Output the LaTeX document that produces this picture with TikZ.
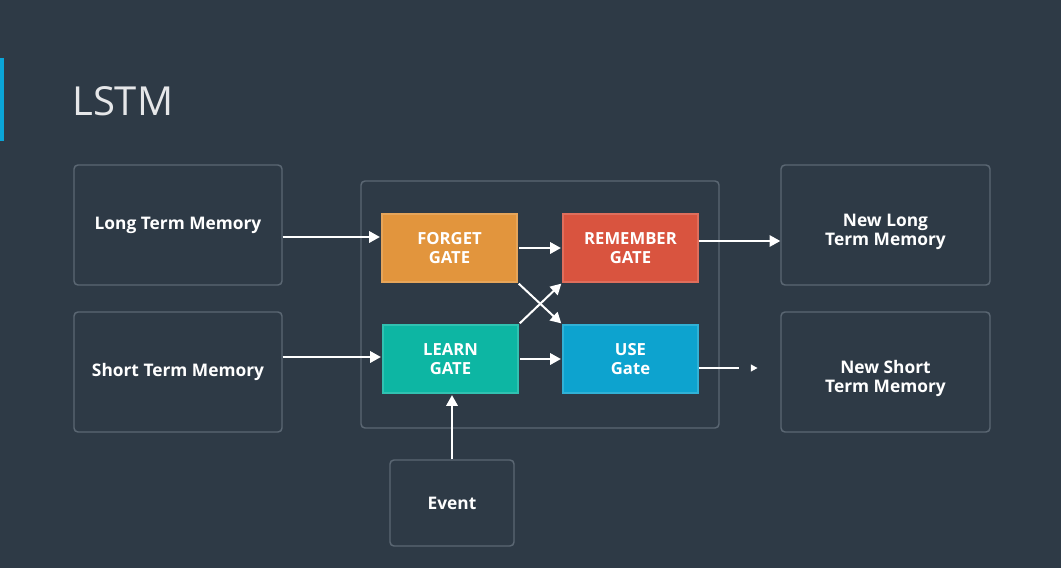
\documentclass[tikz,border=0pt]{standalone}
\usepackage{fontspec}
\setmainfont{Open Sans}
\usepackage{tikz}
\usetikzlibrary{arrows.meta}
\definecolor{bgcol}{HTML}{2E3A46}
\definecolor{edgecol}{HTML}{5B6773}
\definecolor{barcol}{HTML}{0AA5D8}
\definecolor{forgetcol}{HTML}{E2953D}
\definecolor{remembercol}{HTML}{D9543F}
\definecolor{learncol}{HTML}{0DB6A3}
\definecolor{usecol}{HTML}{0DA3CF}
\tikzset{
  memblk/.style = {draw=edgecol, line width=1.1pt, rounded corners=3pt,
                   minimum width=156pt, minimum height=90pt, align=center,
                   text=white, font=\fontsize{13}{14.5}\selectfont\bfseries},
  memtxt/.style = {align=center, text=white, font=\fontsize{13}{14.5}\selectfont\bfseries,
                   yshift=-5pt},
  gateblk/.style= {draw=#1!85!white, fill=#1, line width=0.8pt,
                   minimum width=101.25pt, minimum height=51pt, align=center,
                   text=white, font=\fontsize{12.5}{14.5}\selectfont\bfseries},
  ar/.style     = {-{Triangle[length=8pt, width=8.5pt]}, white, line width=1.5pt,
                   shorten <=1.2pt, shorten >=1.2pt},
}

\begin{document}
\begin{tikzpicture}[x=0.75pt, y=-0.75pt]
    \fill[bgcol] (0,0) rectangle (1061,568);
    \useasboundingbox (0,0) rectangle (1061,568);
    \fill[barcol] (0,58) rectangle (4,141);
    \node[anchor=base west, text=white!88!bgcol, inner sep=0pt,
          font=\fontsize{30}{34}\selectfont] (title) at (72,115) {LSTM};

    % memory boxes
    \node[memblk] (ltm)  at (178,225)   {Long Term Memory};
    \node[memblk] (stm)  at (178,372)   {Short Term Memory};
    \node[memblk, minimum width=156.75pt,
          label={[memtxt]center:New Long\\Term Memory}] (nltm) at (885.5,225) {};
    \node[memblk, minimum width=156.75pt,
          label={[memtxt]center:New Short\\Term Memory}] (nstm) at (885.5,372) {};
    \node[memblk, minimum width=93pt, minimum height=64.5pt] (event) at (452,503) {Event};

    % cell
    \node[draw=edgecol, line width=1.1pt, rounded corners=3pt,
          minimum width=268.5pt, minimum height=185.25pt] (cell) at (540,304.5) {};
    \node[gateblk=forgetcol]   (forget)   at (449.5,248) {FORGET\\GATE};
    \node[gateblk=remembercol] (remember) at (630.5,248) {REMEMBER\\GATE};
    \node[gateblk=learncol]    (learn)    at (450.5,359) {LEARN\\GATE};
    \node[gateblk=usecol]      (use)      at (630.5,359) {USE\\Gate};

    % connectors
    \draw[ar, shorten <=0pt] ([yshift=-9pt]ltm.east) -- ([yshift=8.25pt]forget.west);
    \draw[ar, shorten <=0pt] ([yshift=11.25pt]stm.east) -- ([yshift=1.5pt]learn.west);
    \draw[ar] (forget) -- (remember);
    \draw[ar] (learn) -- (use);
    \draw[ar] (forget.south east) -- (use.north west);
    \draw[ar] (learn.north east) -- (remember.south west);
    \draw[ar, shorten <=0pt, shorten >=0pt] ([yshift=5.25pt]remember.east) -- ([yshift=-12pt]nltm.west);
    \draw[ar, shorten <=0pt, shorten >=17pt, dash pattern=on 30pt off 10pt,
          -{Triangle[length=5pt, width=5pt]}] ([yshift=-6.75pt]use.east) -- ([yshift=3pt]nstm.west);
    \draw[ar, shorten <=0pt] (event.north) -- (event.north |- learn.south);
\end{tikzpicture}
\end{document}
